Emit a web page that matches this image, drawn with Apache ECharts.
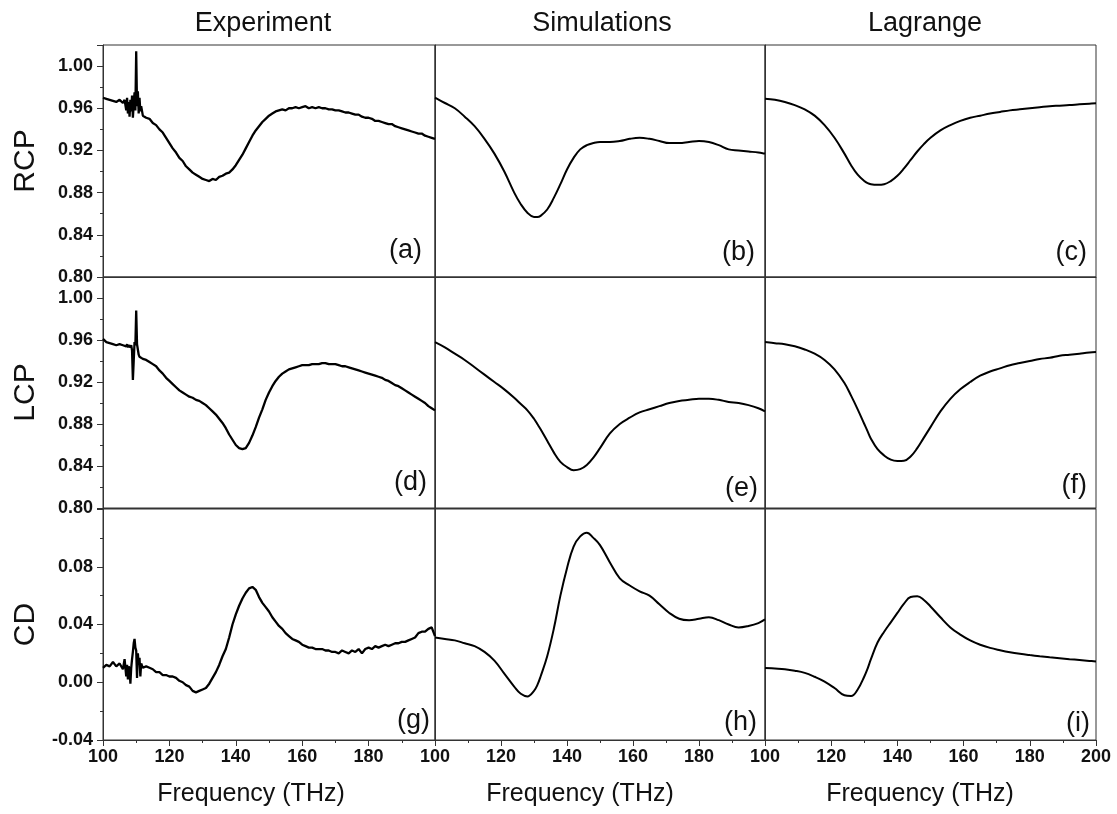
<!DOCTYPE html>
<html>
<head>
<meta charset="utf-8">
<script src="https://cdn.jsdelivr.net/npm/echarts@6/dist/echarts.min.js"></script>
<style>
html,body{margin:0;padding:0;background:#fff;}
#chart{width:1117px;height:814px;}
</style>
</head>
<body>
<div id="chart"></div>
<script>
// ---------- DATA ----------
const columnTitles = ["Experiment", "Simulations", "Lagrange"];
const rowNames = ["RCP", "LCP", "CD"];
const panelLetters = ["(a)", "(b)", "(c)", "(d)", "(e)", "(f)", "(g)", "(h)", "(i)"];
const xAxisTitle = "Frequency (THz)";

const expFreq = [
  100,101,102,103,104,105,106,
  106.5,107,107.25,107.5,107.75,108,108.25,108.5,108.75,109,109.25,109.5,109.75,110,110.25,110.5,110.75,111,111.25,111.5,112,
  113,114,115,116,117,118,119,120,121,122,
  123,124,125,126,127,128,129,130,131,132,
  133,134,135,136,137,138,139,140,141,142,
  143,144,145,146,147,148,149,150,151,152,
  153,154,155,156,157,158,159,160,161,162,
  163,164,165,166,167,168,169,170,171,172,
  173,174,175,176,177,178,179,180,181,182,
  183,184,185,186,187,188,189,190,191,192,
  193,194,195,196,197,198,199,200
];

const rcpExp = [
  0.970,0.969,0.968,0.967,0.966,0.968,0.965,
  0.968,0.958,0.970,0.955,0.966,0.952,0.968,0.957,0.972,0.951,0.964,0.975,0.958,1.014,0.962,0.976,0.955,0.970,0.957,0.962,0.953,
  0.951,0.950,0.946,0.944,0.940,0.937,0.932,0.927,0.922,0.918,
  0.913,0.910,0.905,0.902,0.899,0.897,0.895,0.893,0.892,0.891,
  0.893,0.892,0.895,0.896,0.898,0.899,0.902,0.906,0.911,0.916,
  0.922,0.928,0.934,0.939,0.943,0.947,0.950,0.953,0.955,0.957,
  0.958,0.959,0.958,0.960,0.960,0.961,0.960,0.961,0.962,0.960,
  0.961,0.960,0.961,0.960,0.960,0.959,0.959,0.958,0.958,0.957,
  0.956,0.956,0.955,0.954,0.954,0.952,0.951,0.951,0.950,0.948,
  0.948,0.947,0.946,0.945,0.945,0.943,0.942,0.941,0.940,0.939,
  0.938,0.937,0.936,0.936,0.934,0.933,0.932,0.931
];

const lcpExp = [
  0.961,0.958,0.957,0.956,0.955,0.956,0.955,
  0.955,0.954,0.956,0.953,0.955,0.954,0.953,0.955,0.950,0.922,0.940,0.958,0.955,0.988,0.956,0.955,0.946,0.944,0.943,0.943,0.942,
  0.941,0.939,0.937,0.935,0.931,0.928,0.924,0.921,0.918,0.915,
  0.912,0.910,0.908,0.906,0.905,0.903,0.902,0.900,0.898,0.895,
  0.892,0.889,0.885,0.881,0.876,0.870,0.865,0.860,0.857,0.856,
  0.857,0.862,0.869,0.877,0.886,0.894,0.903,0.910,0.916,0.921,
  0.925,0.928,0.930,0.932,0.933,0.934,0.935,0.936,0.936,0.936,
  0.937,0.937,0.937,0.938,0.938,0.937,0.937,0.937,0.936,0.935,
  0.935,0.934,0.933,0.932,0.931,0.930,0.929,0.928,0.927,0.926,
  0.925,0.924,0.922,0.921,0.919,0.917,0.916,0.914,0.912,0.910,
  0.908,0.906,0.904,0.902,0.900,0.897,0.895,0.893
];

const cdExp = [
  0.010,0.012,0.011,0.014,0.011,0.013,0.009,
  0.016,0.004,0.012,0.002,0.011,0.009,-0.001,0.010,0.016,0.021,0.027,0.030,0.024,0.022,0.003,0.020,0.012,0.017,0.004,0.013,0.010,
  0.011,0.010,0.009,0.007,0.007,0.005,0.005,0.004,0.004,0.003,
  0.001,0.000,-0.002,-0.003,-0.006,-0.007,-0.006,-0.005,-0.004,-0.001,
  0.003,0.007,0.012,0.018,0.023,0.031,0.040,0.047,0.053,0.058,
  0.062,0.065,0.066,0.064,0.059,0.055,0.052,0.049,0.045,0.042,
  0.039,0.037,0.034,0.032,0.030,0.029,0.028,0.026,0.025,0.024,
  0.024,0.023,0.023,0.023,0.022,0.022,0.021,0.021,0.020,0.022,
  0.021,0.020,0.022,0.021,0.023,0.020,0.023,0.024,0.023,0.025,
  0.024,0.025,0.026,0.025,0.026,0.027,0.027,0.028,0.028,0.029,
  0.030,0.031,0.034,0.035,0.035,0.037,0.038,0.032
];

const modelFreq = [100,103,106,109,112,115,118,121,124,126,128,130,131,132,134,136,138,140,142,144,146,148,150,153,156,159,162,165,168,171,174,177,180,183,186,189,192,195,198,200];

const rcpSim = [0.970,0.965,0.960,0.952,0.943,0.931,0.917,0.900,0.880,0.869,0.861,0.857,0.857,0.858,0.864,0.875,0.888,0.902,0.913,0.921,0.925,0.927,0.928,0.928,0.929,0.931,0.932,0.931,0.929,0.927,0.927,0.928,0.929,0.928,0.925,0.921,0.920,0.919,0.918,0.917];
const lcpSim = [0.958,0.953,0.947,0.941,0.934,0.927,0.920,0.913,0.905,0.899,0.893,0.885,0.880,0.875,0.864,0.853,0.844,0.839,0.836,0.837,0.841,0.848,0.857,0.871,0.880,0.886,0.891,0.894,0.897,0.900,0.902,0.903,0.904,0.904,0.903,0.901,0.900,0.898,0.895,0.892];
const cdSim = [0.031,0.030,0.029,0.027,0.025,0.021,0.015,0.006,-0.003,-0.008,-0.0098,-0.006,-0.002,0.004,0.018,0.037,0.060,0.079,0.094,0.101,0.1036,0.100,0.095,0.083,0.072,0.067,0.063,0.060,0.054,0.048,0.044,0.043,0.044,0.045,0.043,0.040,0.038,0.039,0.041,0.0435];

const rcpLag = [0.969,0.968,0.966,0.963,0.959,0.953,0.944,0.932,0.917,0.906,0.897,0.891,0.889,0.888,0.8875,0.888,0.891,0.896,0.903,0.911,0.919,0.926,0.932,0.939,0.944,0.948,0.951,0.953,0.955,0.9565,0.958,0.959,0.960,0.961,0.962,0.9625,0.963,0.9637,0.9643,0.9647];
const lcpLag = [0.958,0.957,0.956,0.954,0.951,0.947,0.941,0.932,0.919,0.907,0.894,0.880,0.873,0.866,0.856,0.850,0.846,0.8448,0.845,0.849,0.857,0.867,0.877,0.892,0.904,0.913,0.920,0.926,0.930,0.933,0.936,0.938,0.940,0.942,0.943,0.945,0.946,0.947,0.948,0.9485];
const cdLag = [0.0099,0.0095,0.0090,0.0080,0.0065,0.0038,0.0005,-0.0040,-0.0090,-0.0095,-0.0050,0.0040,0.0095,0.0160,0.0275,0.0350,0.0415,0.0480,0.0545,0.0590,0.0595,0.0570,0.0525,0.0450,0.0380,0.0330,0.0290,0.0260,0.0238,0.0222,0.0208,0.0197,0.0188,0.0180,0.0173,0.0167,0.0160,0.0154,0.0148,0.0144];

const xTicks = [100, 120, 140, 160, 180, 200];

// ---------- LAYOUT ----------
const colLeft = [103, 435, 765];
const colWidth = [332, 330, 331];
const rowTop = [45, 277, 509];
const rowHeight = [232, 231, 231];
const yRanges = [[0.80, 1.02], [0.80, 1.02], [-0.04, 0.12]];

const panels = [
  [expFreq, rcpExp, false], [modelFreq, rcpSim, true], [modelFreq, rcpLag, true],
  [expFreq, lcpExp, false], [modelFreq, lcpSim, true], [modelFreq, lcpLag, true],
  [expFreq, cdExp, false],  [modelFreq, cdSim, true],  [modelFreq, cdLag, true]
];

const letterPos = [
  [422, 251], [755, 253], [1087, 253],
  [427, 483], [758, 489], [1087, 486],
  [430, 721], [757, 723], [1090, 724]
];

const grids = [], xAxes = [], yAxes = [], series = [];
const axisColor = '#333';

for (let r = 0; r < 3; r++) {
  for (let c = 0; c < 3; c++) {
    const i = r * 3 + c;
    grids.push({
      left: colLeft[c], top: rowTop[r], width: colWidth[c], height: rowHeight[r],
      show: true, borderColor: axisColor, borderWidth: 1, backgroundColor: 'transparent'
    });
    const bottomRow = r === 2;
    xAxes.push({
      type: 'value', gridIndex: i, min: xTicks[0], max: xTicks[xTicks.length - 1], interval: 20,
      axisLine: { show: true, onZero: false, lineStyle: { color: axisColor, width: 1 } },
      axisTick: { show: bottomRow, inside: false, length: 6, lineStyle: { color: axisColor, width: 1 } },
      minorTick: { show: bottomRow, splitNumber: 2, length: 3, lineStyle: { color: axisColor, width: 1 } },
      axisLabel: {
        show: bottomRow, margin: 8, color: '#111',
        fontFamily: '"Liberation Sans", Arial, sans-serif', fontWeight: 'bold', fontSize: 18,
        showMaxLabel: c === 2, showMinLabel: true
      },
      splitLine: { show: false }
    });
    const firstCol = c === 0;
    yAxes.push({
      type: 'value', gridIndex: i, min: yRanges[r][0], max: yRanges[r][1], interval: 0.04,
      name: firstCol ? rowNames[r] : '', nameLocation: 'middle', nameRotate: 90, nameGap: 62,
      nameTextStyle: { fontFamily: '"Liberation Sans", Arial, sans-serif', fontSize: 30, color: '#111' },
      axisLine: { show: true, lineStyle: { color: axisColor, width: 1 } },
      axisTick: { show: firstCol, inside: false, length: 6, lineStyle: { color: axisColor, width: 1 } },
      minorTick: { show: firstCol, splitNumber: 2, length: 3, lineStyle: { color: axisColor, width: 1 } },
      axisLabel: {
        show: firstCol, margin: 10, color: '#111',
        fontFamily: '"Liberation Sans", Arial, sans-serif', fontWeight: 'bold', fontSize: 18,
        showMaxLabel: false, showMinLabel: true,
        formatter: v => v.toFixed(2)
      },
      splitLine: { show: false }
    });
    const [fx, fy, smooth] = panels[i];
    series.push({
      type: 'line', xAxisIndex: i, yAxisIndex: i,
      data: fx.map((f, k) => [f, fy[k]]),
      showSymbol: false, symbol: 'none', smooth: smooth ? 0.4 : false,
      lineStyle: { color: '#000', width: smooth ? 2 : 2.3 }, clip: true, animation: false
    });
  }
}

const graphics = [];
const titleCenters = [263, 602, 925];
columnTitles.forEach((t, c) => {
  graphics.push({
    type: 'text', x: titleCenters[c], y: 24,
    style: { text: t, font: '27px "Liberation Sans", Arial, sans-serif', fill: '#111',
      textAlign: 'center', align: 'center', textVerticalAlign: 'middle', verticalAlign: 'middle' }
  });
});
const freqCenters = [251, 580, 920];
freqCenters.forEach(cx => {
  graphics.push({
    type: 'text', x: cx, y: 794,
    style: { text: xAxisTitle, font: '25px "Liberation Sans", Arial, sans-serif', fill: '#111',
      textAlign: 'center', align: 'center', textVerticalAlign: 'middle', verticalAlign: 'middle' }
  });
});
panelLetters.forEach((t, i) => {
  graphics.push({
    type: 'text', x: letterPos[i][0], y: letterPos[i][1],
    style: { text: t, font: '27px "Liberation Sans", Arial, sans-serif', fill: '#111',
      textAlign: 'right', align: 'right', textVerticalAlign: 'middle', verticalAlign: 'middle' }
  });
});

const chart = echarts.init(document.getElementById('chart'), null, { renderer: 'canvas' });
chart.setOption({
  animation: false,
  backgroundColor: '#fff',
  grid: grids,
  xAxis: xAxes,
  yAxis: yAxes,
  series: series,
  graphic: { elements: graphics }
});
</script>
</body>
</html>
